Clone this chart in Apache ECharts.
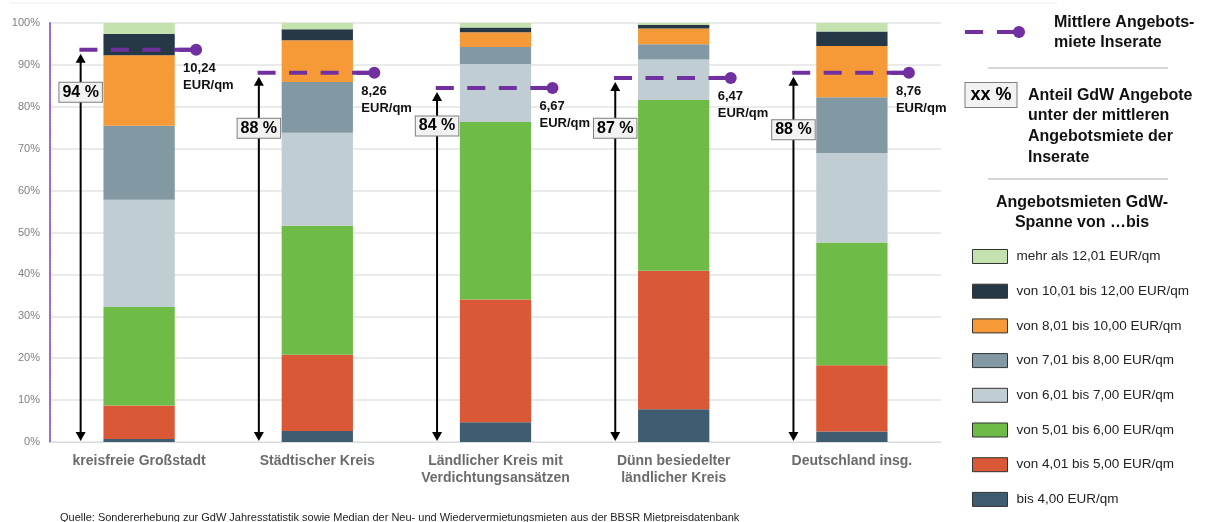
<!DOCTYPE html>
<html><head><meta charset="utf-8">
<script src="https://cdn.jsdelivr.net/npm/echarts@6/dist/echarts.min.js"></script>
<style>html,body{margin:0;padding:0;background:#fff}#c{width:1210px;height:522px}</style>
</head><body><div id="c"></div>
<script>
// ---- data ----
const categories = ['kreisfreie Großstadt', 'Städtischer Kreis', 'Ländlicher Kreis mit\nVerdichtungsansätzen', 'Dünn besiedelter\nländlicher Kreis', 'Deutschland insg.'];
const seriesNames = ['bis 4,00 EUR/qm', 'von 4,01 bis 5,00 EUR/qm', 'von 5,01 bis 6,00 EUR/qm', 'von 6,01 bis 7,00 EUR/qm', 'von 7,01 bis 8,00 EUR/qm', 'von 8,01 bis 10,00 EUR/qm', 'von 10,01 bis 12,00 EUR/qm', 'mehr als 12,01 EUR/qm'];
const bis4   = [0.7, 2.6, 4.7, 7.8, 2.5];
const v4_5   = [8.0, 18.2, 29.3, 33.1, 15.8];
const v5_6   = [23.5, 30.8, 42.4, 40.7, 29.3];
const v6_7   = [25.6, 22.2, 13.8, 9.7, 21.4];
const v7_8   = [17.7, 12.1, 4.1, 3.6, 13.3];
const v8_10  = [16.8, 10.0, 3.5, 3.8, 12.2];
const v10_12 = [5.1, 2.6, 1.1, 0.9, 3.5];
const over12 = [2.6, 1.5, 1.1, 0.4, 2.0];
const priceLevel = [93.6, 88.1, 84.5, 86.9, 88.1];
const priceLabels = ['10,24', '8,26', '6,67', '6,47', '8,76'];
const shareLabels = ['94 %', '88 %', '84 %', '87 %', '88 %'];
const yTickLabels = ['0%', '10%', '20%', '30%', '40%', '50%', '60%', '70%', '80%', '90%', '100%'];

// ---- layout / style ----
const boxLevels = [83.5, 74.9, 75.4, 74.9, 74.5];
const colors = ['#3f5d70', '#da5835', '#6fbb48', '#c0cdd3', '#8299a4', '#f59a36', '#263845', '#c3e2ad'];
const purple = '#7030a0';
const FONT = '"Liberation Sans", Arial, sans-serif';

const stacks = [bis4, v4_5, v5_6, v6_7, v7_8, v8_10, v10_12, over12];
const barSeries = stacks.map((arr, k) => ({
  name: seriesNames[k], type: 'bar', stack: 'a', data: arr, barWidth: '40%',
  itemStyle: { color: colors[k] }, emphasis: { disabled: true }
}));

const overlay = {
  type: 'custom', z: 10, silent: true,
  data: priceLevel.map((v, i) => [i, v]),
  renderItem: function (params, api) {
    const i = params.dataIndex;
    const band = api.size([1, 0])[0];
    const base = api.coord([i, 0]);
    const top = api.coord([i, api.value(1)]);
    const cx = base[0], y0 = base[1], yl = top[1];
    const ax = cx - 0.328 * band;
    const x1 = cx - 0.335 * band, x2 = cx + 0.32 * band;
    const by = api.coord([i, boxLevels[i]])[1];
    return { type: 'group', children: [
      { type: 'line', shape: { x1: ax, y1: yl + 8, x2: ax, y2: y0 - 6 }, style: { stroke: '#000', lineWidth: 2 } },
      { type: 'polygon', shape: { points: [[ax, yl + 4], [ax - 5, yl + 13], [ax + 5, yl + 13]] }, style: { fill: '#000' } },
      { type: 'polygon', shape: { points: [[ax, y0 - 1], [ax - 5, y0 - 10], [ax + 5, y0 - 10]] }, style: { fill: '#000' } },
      { type: 'line', shape: { x1: x1, y1: yl, x2: x2, y2: yl }, style: { stroke: purple, lineWidth: 4, lineDash: [18, 13.5] } },
      { type: 'line', shape: { x1: x2 - 18, y1: yl, x2: x2, y2: yl }, style: { stroke: purple, lineWidth: 4 } },
      { type: 'circle', shape: { cx: x2, cy: yl, r: 6 }, style: { fill: purple } },
      { type: 'text', style: { text: priceLabels[i] + '\nEUR/qm', x: x2 - 13, y: yl + 10, font: 'bold 13px ' + FONT, fill: '#111', lineHeight: 17, verticalAlign: 'top', align: 'left' } },
      { type: 'text', z2: 5, style: { text: shareLabels[i], x: ax, y: by, font: 'bold 16px ' + FONT, fill: '#000', align: 'center', verticalAlign: 'middle', backgroundColor: '#f2f2f2', borderColor: '#7f7f7f', borderWidth: 1, padding: [1, 3, 0, 3], lineHeight: 18 } }
    ] };
  }
};

const chart = echarts.init(document.getElementById('c'), null, { renderer: 'canvas' });
chart.setOption({
  animation: false,
  backgroundColor: '#fff',
  grid: { left: 50, right: 269, top: 23, bottom: 80 },
  xAxis: {
    type: 'category', data: categories,
    axisLine: { lineStyle: { color: '#dcdcdc' } }, axisTick: { show: false },
    axisLabel: { color: '#6b6b6b', fontWeight: 'bold', fontSize: 14, fontFamily: FONT, lineHeight: 17.5, margin: 10, interval: 0 }
  },
  yAxis: {
    type: 'value', min: 0, max: 100, interval: 10,
    axisLine: { show: true, lineStyle: { color: '#9a66d4', width: 2, type: [2, 1] } },
    axisTick: { show: false },
    splitLine: { lineStyle: { color: '#e3e3e3', width: 1.5 } },
    axisLabel: { color: '#7f7f7f', fontSize: 11, fontFamily: FONT, margin: 10, formatter: v => yTickLabels[Math.round(v / 10)] }
  },
  legend: {
    orient: 'vertical', left: 972, top: 249, padding: 0,
    data: seriesNames.slice().reverse(), selectedMode: false,
    itemWidth: 35, itemHeight: 14, itemGap: 19.7, icon: 'rect',
    itemStyle: { borderColor: '#333', borderWidth: 1 },
    textStyle: { fontSize: 13.5, color: '#222', fontFamily: FONT, padding: [0, 0, 0, 4] }
  },
  graphic: [
    { type: 'line', shape: { x1: 10, y1: 3, x2: 1057, y2: 3 }, style: { stroke: '#eeeeee', lineWidth: 1 } },
    { type: 'line', shape: { x1: 965, y1: 32, x2: 1019, y2: 32 }, style: { stroke: purple, lineWidth: 4, lineDash: [18, 14] } },
    { type: 'circle', shape: { cx: 1019, cy: 32, r: 6 }, style: { fill: purple } },
    { type: 'text', style: { text: 'Mittlere Angebots-\nmiete Inserate', x: 1054, y: 12, font: 'bold 16px ' + FONT, fill: '#111', lineHeight: 20.7 } },
    { type: 'line', shape: { x1: 988, y1: 68, x2: 1168, y2: 68 }, style: { stroke: '#c8c8c8', lineWidth: 1.5 } },
    { type: 'text', style: { text: 'xx %', x: 991, y: 95, font: 'bold 18px ' + FONT, fill: '#000', align: 'center', verticalAlign: 'middle', backgroundColor: '#f2f2f2', borderColor: '#7f7f7f', borderWidth: 1, padding: [2, 5, 1, 5], lineHeight: 21 } },
    { type: 'text', style: { text: 'Anteil GdW Angebote\nunter der mittleren\nAngebotsmiete der\nInserate', x: 1028, y: 85, font: 'bold 16px ' + FONT, fill: '#111', lineHeight: 20.7 } },
    { type: 'line', shape: { x1: 988, y1: 179, x2: 1168, y2: 179 }, style: { stroke: '#c8c8c8', lineWidth: 1.5 } },
    { type: 'text', style: { text: 'Angebotsmieten GdW-\nSpanne von …bis', x: 1082, y: 192, font: 'bold 16px ' + FONT, fill: '#111', lineHeight: 20.7, align: 'center' } },
    { type: 'text', style: { text: 'Quelle: Sondererhebung zur GdW Jahresstatistik sowie Median der Neu- und Wiedervermietungsmieten aus der BBSR Mietpreisdatenbank', x: 60, y: 512, font: '11px ' + FONT, fill: '#222' } }
  ],
  series: barSeries.concat([overlay])
});
</script>
</body></html>
